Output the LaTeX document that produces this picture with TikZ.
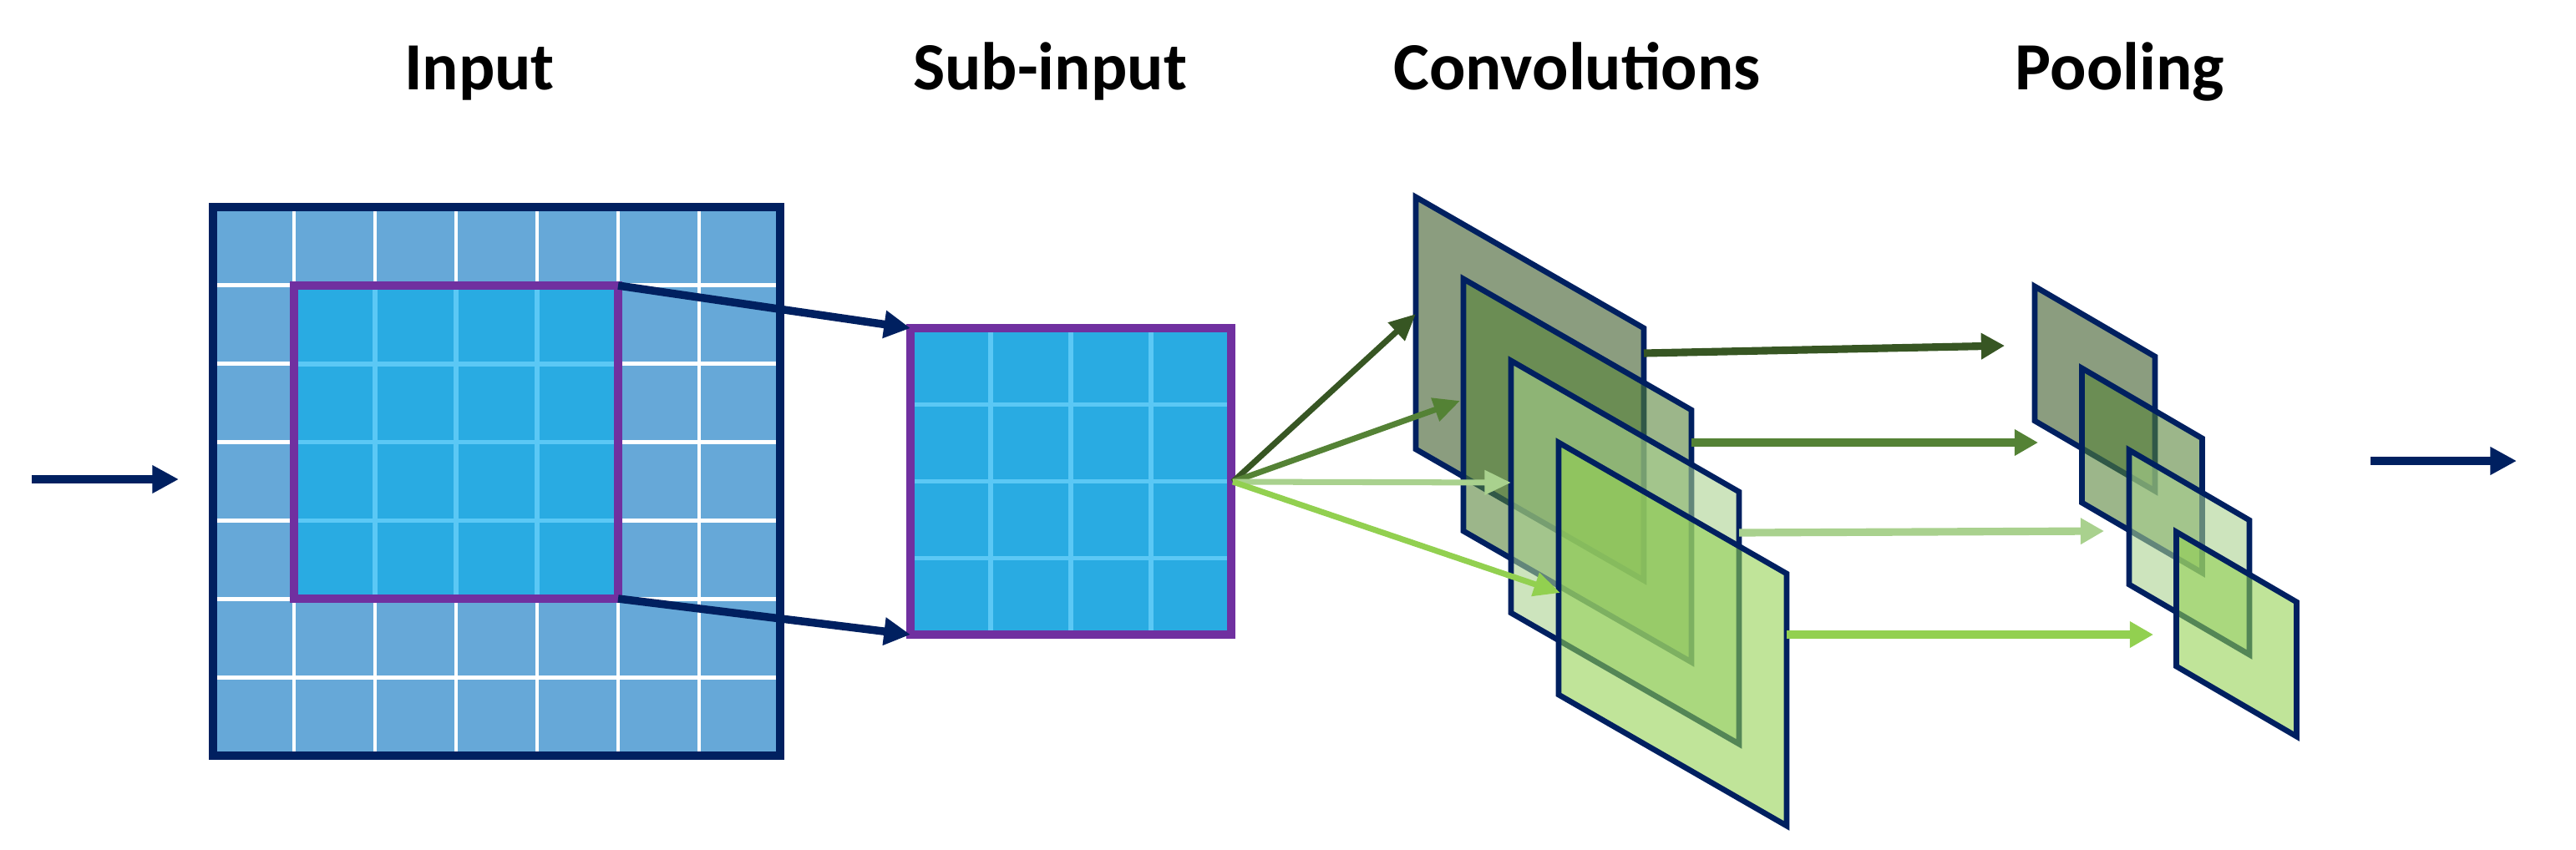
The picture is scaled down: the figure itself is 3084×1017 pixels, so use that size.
\documentclass[tikz,border=0pt]{standalone}
\usepackage{fontspec}
\setmainfont{Carlito}
\usetikzlibrary{arrows.meta}

\definecolor{navy}{HTML}{002060}
\definecolor{purp}{HTML}{7030A0}
\definecolor{cellblue}{HTML}{66A8D8}
\definecolor{subblue}{HTML}{29ABE2}
\definecolor{subline}{HTML}{5BC8F5}
\definecolor{mapA}{HTML}{375623}
\definecolor{mapB}{HTML}{548235}
\definecolor{mapC}{HTML}{A9D18E}
\definecolor{mapD}{HTML}{92D050}

\tikzset{
  title/.style={font=\bfseries\fontsize{23}{28}\selectfont, anchor=base, inner sep=0pt},
  navyarrow/.style={navy, line width=2.7pt, -{Triangle[length=9pt,width=9pt]}},
  fan/.style={line width=2pt, -{Triangle[length=9pt,width=8pt]}},
  poolarrow/.style={line width=2.6pt, -{Triangle[length=8pt,width=8.5pt]}},
  gridline/.style={white, line width=1.4pt},
  subgrid/.style={subline, line width=1.5pt},
  fmap/.style={draw=navy, line width=1.9pt, fill opacity=0.58},
}

\begin{document}
\begin{tikzpicture}[x=0.01cm,y=-0.01cm]
\useasboundingbox (0,0) rectangle (3084,1017);

% titles
\node[title] (t-input) at (574,107) {Input};
\node[title] (t-sub) at (1257,107) {Sub-input};
\node[title] (t-conv) at (1888,107) {Convolutions};
\node[title] (t-pool) at (2538,107) {Pooling};

% input grid
\fill[cellblue] (255,248) rectangle (934,905);
\foreach \k in {1,...,6}{
  \draw[gridline] (255+97*\k,248) -- (255+97*\k,905);
  \draw[gridline] (255,248+93.86*\k) -- (934,248+93.86*\k);
}
\draw[navy, line width=2.7pt] (255,248) rectangle (934,905);

% window inside the input
\fill[subblue] (352,342) rectangle (740,717);
\foreach \k in {1,2,3}{
  \draw[subgrid] (352+97*\k,342) -- ++(0,375);
  \draw[subgrid] (352,342+93.86*\k) -- ++(388,0);
}
\draw[purp, line width=2.6pt] (352,342) rectangle (740,717);
\coordinate (win-ne) at (740,342);
\coordinate (win-se) at (740,717);

% sub-input
\fill[subblue] (1090,393) rectangle (1474,760);
\foreach \k in {1,2,3}{
  \draw[subgrid] (1090+96*\k,393) -- ++(0,367);
  \draw[subgrid] (1090,393+91.75*\k) -- ++(384,0);
}
\draw[purp, line width=2.6pt] (1090,393) rectangle (1474,760);
\coordinate (sub-nw) at (1090,393);
\coordinate (sub-sw) at (1090,760);
\coordinate (sub-e) at (1476,577);

% convolution maps
\foreach \c [count=\i from 0] in {mapA,mapB,mapC,mapD}{
  \coordinate (conv\i) at (1695+57*\i,236+98*\i);
  \filldraw[fmap, fill=\c] (conv\i) -- ++(273,157) -- ++(0,302) -- ++(-273,-157) -- cycle;
}

% pooling maps
\foreach \c [count=\i from 0] in {mapA,mapB,mapC,mapD}{
  \coordinate (pool\i) at (2436+56.5*\i,343+98*\i);
  \filldraw[fmap, fill=\c] (pool\i) -- ++(144,84) -- ++(0,161) -- ++(-144,-84) -- cycle;
}

\coordinate (conv0-in) at (1695,376);
\coordinate (conv1-in) at (1748,480);
\coordinate (conv2-in) at (1809,578);
\coordinate (conv3-in) at (1868,710);
\coordinate (conv0-out) at (1968,423);
\coordinate (conv1-out) at (2025,530);
\coordinate (conv2-out) at (2082,638);
\coordinate (conv3-out) at (2139,760);
\coordinate (pool0-in) at (2400,414);
\coordinate (pool1-in) at (2440,530);
\coordinate (pool2-in) at (2519,636);
\coordinate (pool3-in) at (2578,760);

\coordinate (in-start) at (38,574);
\coordinate (in-end) at (214,574);
\coordinate (out-start) at (2838,552);
\coordinate (out-end) at (3013,552);

% arrows
\draw[navyarrow] (in-start) -- (in-end);
\draw[navyarrow] (win-ne) -- (sub-nw);
\draw[navyarrow] (win-se) -- (sub-sw);
\foreach \c [count=\i from 0] in {mapA,mapB,mapC,mapD}{
  \draw[fan, \c] (sub-e) -- (conv\i-in);
  \draw[poolarrow, \c] (conv\i-out) -- (pool\i-in);
}
\draw[navyarrow] (out-start) -- (out-end);

\end{tikzpicture}
\end{document}
